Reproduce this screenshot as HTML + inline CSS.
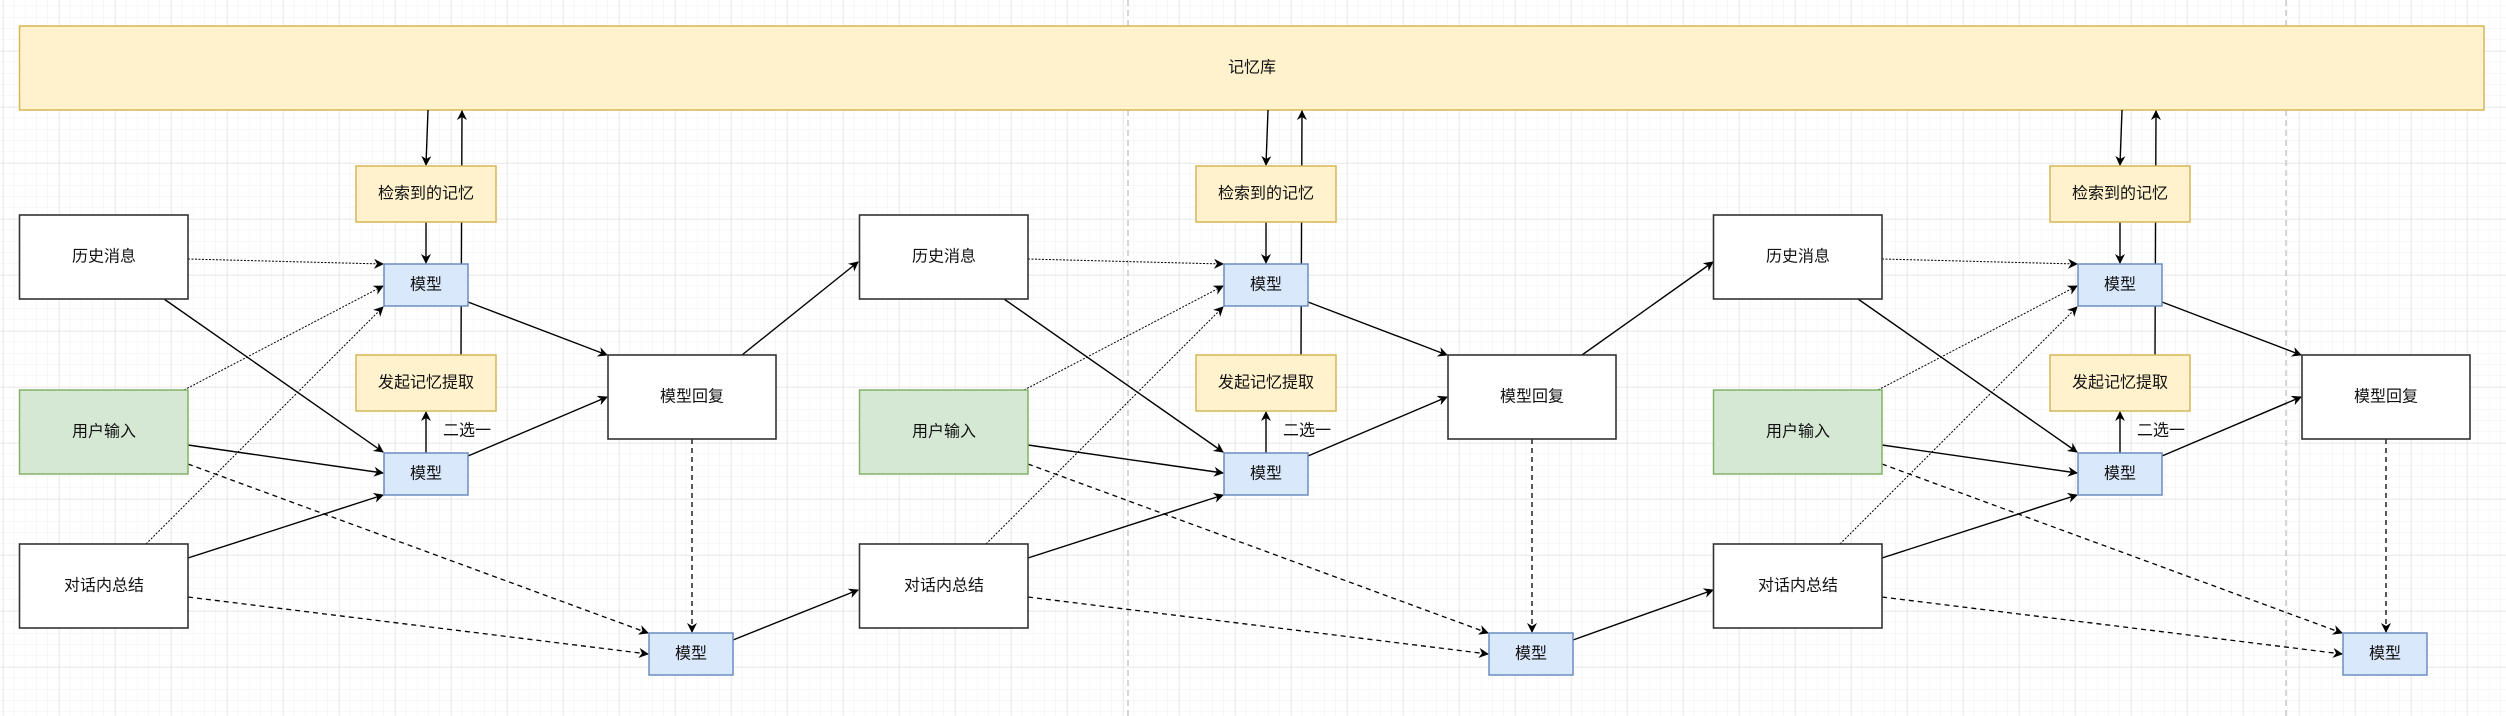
<!DOCTYPE html>
<html><head><meta charset="utf-8"><style>
html,body{margin:0;padding:0;background:#fff;}
svg{display:block;}
text{font-family:"Liberation Sans","Noto Sans CJK SC",sans-serif;font-size:16px;fill:#111;text-anchor:middle;dominant-baseline:central;}
</style></head><body>
<svg width="2506" height="716" viewBox="0 0 2506 716" xmlns="http://www.w3.org/2000/svg">
<defs>
<pattern id="minor" x="3" y="51" width="11.2" height="11.2" patternUnits="userSpaceOnUse">
<path d="M11.2 0V11.2M0 11.2H11.2" stroke="#f0f0f0" stroke-width="1" fill="none"/>
</pattern>
<pattern id="major" x="3" y="51" width="56" height="56" patternUnits="userSpaceOnUse">
<path d="M0 0V56M0 0H56" stroke="#dcdcdc" stroke-width="1" fill="none"/>
</pattern>
<marker id="ar" viewBox="0 0 10 10" refX="9" refY="5" markerWidth="10" markerHeight="10" markerUnits="userSpaceOnUse" orient="auto">
<path d="M0 0L10 5L0 10L3 5Z" fill="#000"/>
</marker>
<g id="panel">
<!-- connectors -->
<g stroke="#000" stroke-width="1.4" fill="none" marker-end="url(#ar)">
<line x1="428" y1="110" x2="426" y2="165"/>
<line x1="426" y1="222" x2="426" y2="263"/>
<line x1="461" y1="355" x2="462" y2="111"/>
<line x1="426" y1="453" x2="426" y2="412"/>
<line x1="164" y1="299" x2="383" y2="452"/>
<line x1="188" y1="445" x2="383" y2="473"/>
<line x1="188" y1="558" x2="383" y2="495"/>
<line x1="468" y1="302" x2="607" y2="355"/>
<line x1="468" y1="456" x2="607" y2="397"/>
</g>
<g stroke="#000" stroke-width="1" fill="none" stroke-dasharray="2 1.5" marker-end="url(#ar)">
<line x1="188" y1="259" x2="383" y2="264"/>
<line x1="184" y1="390" x2="383" y2="286"/>
<line x1="146" y1="544" x2="383" y2="307"/>
</g>
<g stroke="#000" stroke-width="1.3" fill="none" stroke-dasharray="5 4" marker-end="url(#ar)">
<line x1="188" y1="464" x2="648" y2="633"/>
<line x1="188" y1="597" x2="648" y2="654"/>
<line x1="692" y1="439" x2="692" y2="632"/>
</g>
<!-- boxes -->
<rect x="356" y="166" width="140" height="56" fill="#fff2cc" stroke="#d6b656" stroke-width="1.5"/>
<text x="426" y="194">检索到的记忆</text>
<rect x="356" y="355" width="140" height="56" fill="#fff2cc" stroke="#d6b656" stroke-width="1.5"/>
<text x="426" y="383">发起记忆提取</text>
<text x="467" y="431">二选一</text>
<rect x="19.5" y="215" width="168.5" height="84" fill="#fff" stroke="#333" stroke-width="1.6"/>
<text x="104" y="257">历史消息</text>
<rect x="19.5" y="390" width="168.5" height="84" fill="#d5e8d4" stroke="#82b366" stroke-width="1.5"/>
<text x="104" y="432">用户输入</text>
<rect x="19.5" y="544" width="168.5" height="84" fill="#fff" stroke="#333" stroke-width="1.6"/>
<text x="104" y="586">对话内总结</text>
<rect x="384" y="264" width="84" height="42" fill="#dae8fc" stroke="#6c8ebf" stroke-width="1.5"/>
<text x="426" y="285">模型</text>
<rect x="384" y="453" width="84" height="42" fill="#dae8fc" stroke="#6c8ebf" stroke-width="1.5"/>
<text x="426" y="474">模型</text>
<rect x="608" y="355" width="168" height="84" fill="#fff" stroke="#333" stroke-width="1.6"/>
<text x="692" y="397">模型回复</text>
<rect x="649" y="633" width="84" height="42" fill="#dae8fc" stroke="#6c8ebf" stroke-width="1.5"/>
<text x="691" y="654">模型</text>
</g>
</defs>
<rect width="2506" height="716" fill="#fff"/>
<rect width="2506" height="716" fill="url(#minor)"/>
<rect width="2506" height="716" fill="url(#major)"/>
<line x1="1128" y1="0" x2="1128" y2="716" stroke="#bbb" stroke-width="1.2" stroke-dasharray="6 4"/>
<line x1="2286" y1="0" x2="2286" y2="716" stroke="#bbb" stroke-width="1.2" stroke-dasharray="6 4"/>
<rect x="19.5" y="26" width="2464.5" height="84" fill="#fff2cc" stroke="#d6b656" stroke-width="1.5"/>
<text x="1252" y="68">记忆库</text>
<g stroke="#000" stroke-width="1.4" fill="none" marker-end="url(#ar)">
<line x1="742" y1="355" x2="858" y2="262"/>
<line x1="733" y1="640" x2="858" y2="590"/>
<line x1="1582" y1="355" x2="1713" y2="262"/>
<line x1="1573" y1="640" x2="1713" y2="590"/>
</g>
<use href="#panel"/>
<use href="#panel" transform="translate(840,0)"/>
<use href="#panel" transform="translate(1694,0)"/>
</svg>
</body></html>
